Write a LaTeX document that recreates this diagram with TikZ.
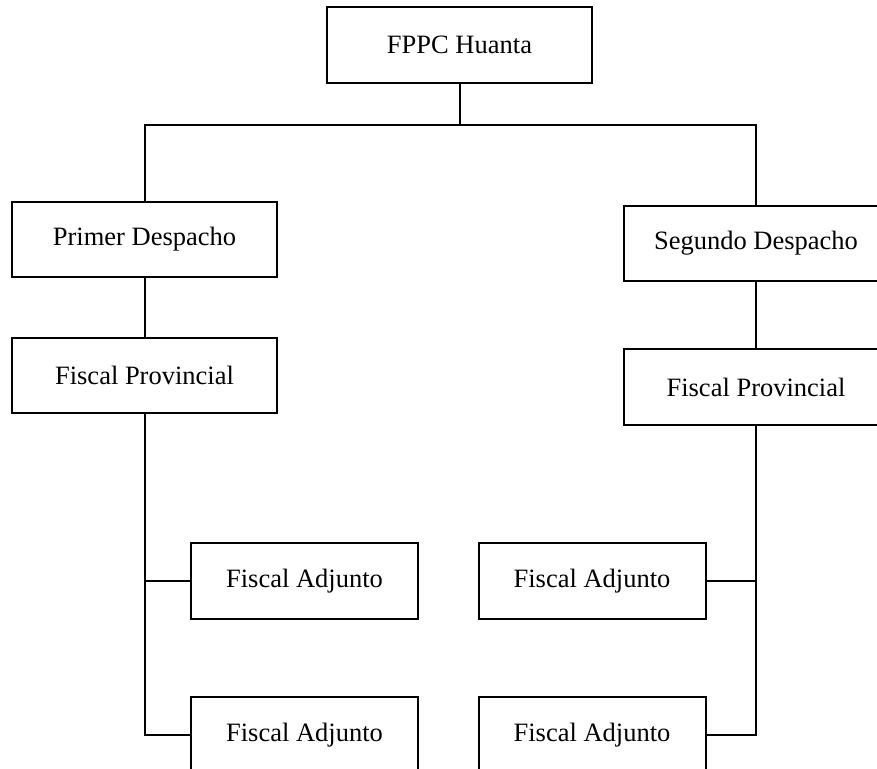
\documentclass[tikz,border=0pt]{standalone}
\usepackage{fontspec}
\setmainfont{Liberation Serif}
\usetikzlibrary{positioning}

\begin{document}
\begin{tikzpicture}
[x=0.5pt,y=-0.5pt,
line width=1pt,
unit/.style={rectangle,draw=black,line width=1pt,minimum width=132.5pt,minimum height=37.75pt,
  inner sep=0pt,font=\fontsize{13.25}{16}\selectfont},
adjunto/.style={unit,minimum width=113.5pt,minimum height=38pt}]
\useasboundingbox (0,0) rectangle (877,769);
\node[unit] (fppc) at (459.5,45) {FPPC Huanta};
\node[unit] (primer) at (144.5,239.5) {Primer Despacho};
\node[unit] (provizq) at (144.5,375.5) {Fiscal Provincial};
\node[unit] (segundo) at (756,243.5) {Segundo Despacho};
\node[unit] (provder) at (756,387) {Fiscal Provincial};
\node[adjunto] (adjizq1) at (304.5,581) {Fiscal Adjunto};
\node[adjunto] (adjizq2) at (304.5,735) {Fiscal Adjunto};
\node[adjunto] (adjder1) at (592,581) {Fiscal Adjunto};
\node[adjunto] (adjder2) at (592,735) {Fiscal Adjunto};
\coordinate (rama) at (459.5,125);
% conectores
\draw (fppc) -- (rama);
\draw (primer.north) |- (rama) -| (segundo.north);
\draw (primer) -- (provizq);
\draw (segundo) -- (provder);
\draw (provizq.south) |- (adjizq1.west);
\draw (provizq.south) |- (adjizq2.west);
\draw (provder.south) |- (adjder1.east);
\draw (provder.south) |- (adjder2.east);
\end{tikzpicture}
\end{document}
